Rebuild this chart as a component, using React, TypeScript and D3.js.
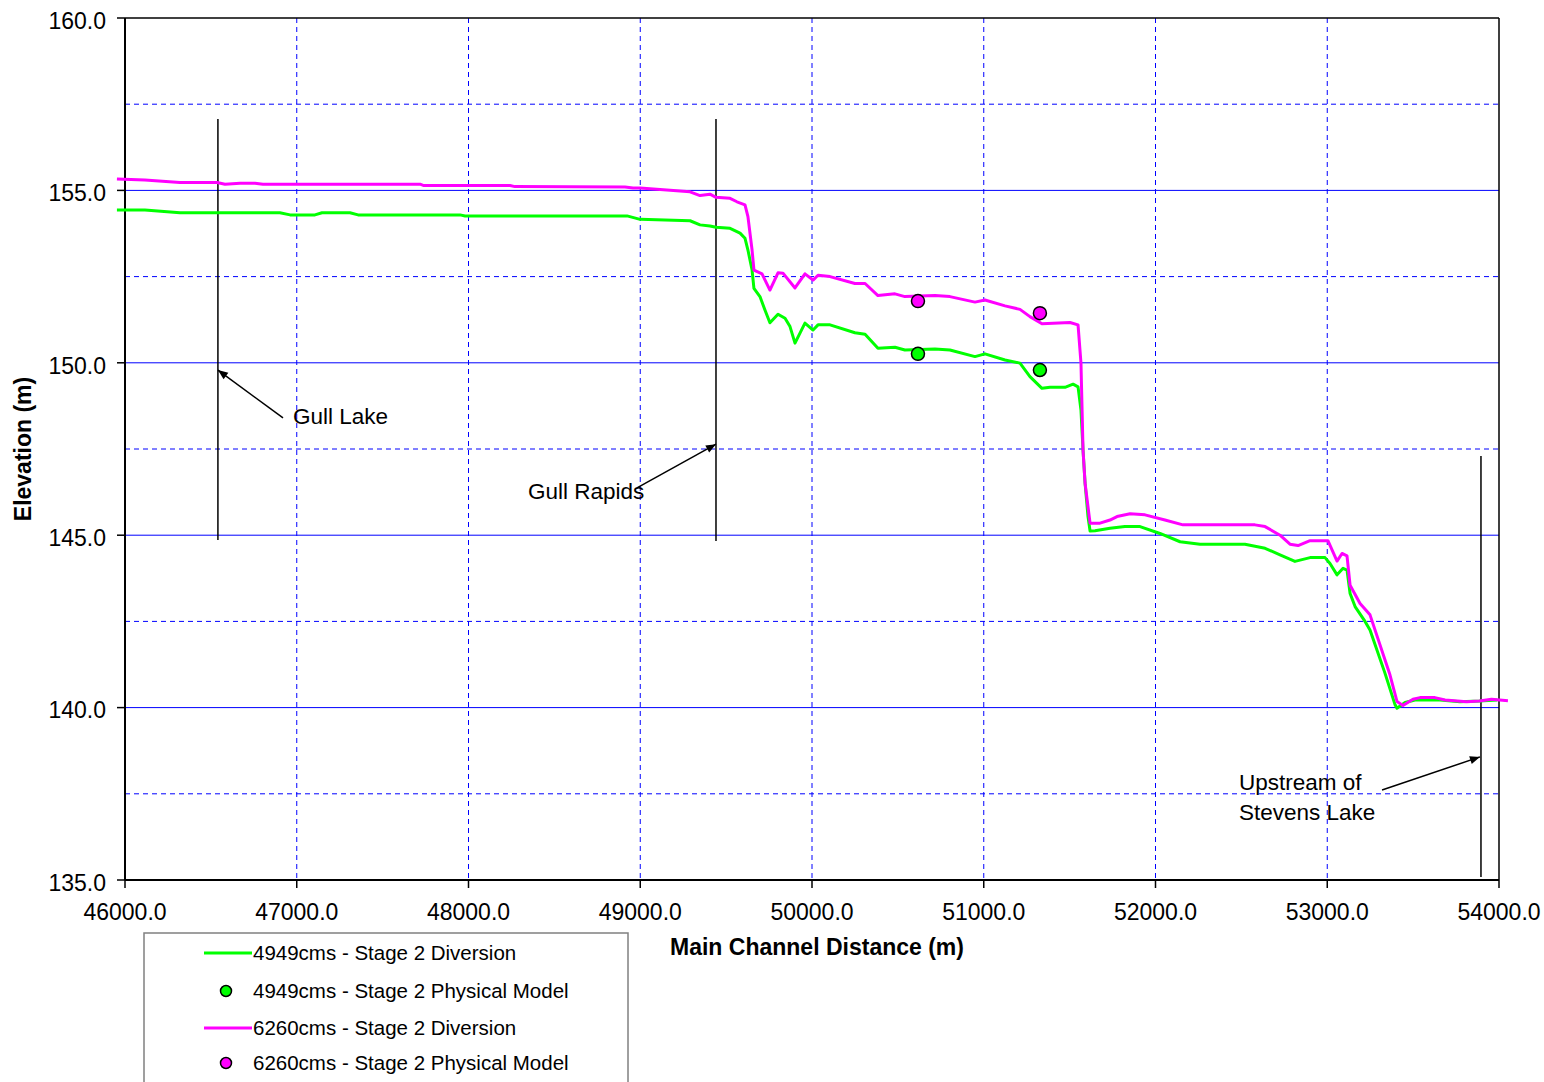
import React from "react";
import * as d3 from "d3";

const xTicks = [46000, 47000, 48000, 49000, 50000, 51000, 52000, 53000, 54000];
const yMajor = [135, 140, 145, 150, 155, 160];
const yMinor = [137.5, 142.5, 147.5, 152.5, 157.5];

const magentaDist = [45953, 46116, 46320, 46536, 46582, 46670, 46757, 46803, 47718, 47740, 48242, 48270, 48911, 48958, 48999, 49290, 49348, 49406, 49441, 49523, 49563, 49610, 49627, 49651, 49662, 49709, 49755, 49802, 49831, 49901, 49959, 50006, 50035, 50105, 50250, 50309, 50384, 50483, 50541, 50716, 50803, 50949, 51007, 51124, 51211, 51269, 51339, 51502, 51549, 51566, 51578, 51590, 51619, 51677, 51735, 51776, 51852, 51939, 52055, 52160, 52579, 52638, 52725, 52783, 52830, 52900, 53004, 53057, 53086, 53115, 53133, 53191, 53249, 53365, 53406, 53441, 53499, 53540, 53627, 53686, 53811, 53886, 53956, 54052];
const magentaElev = [155.33, 155.30, 155.23, 155.23, 155.18, 155.21, 155.21, 155.18, 155.18, 155.14, 155.14, 155.11, 155.10, 155.07, 155.07, 154.96, 154.85, 154.89, 154.80, 154.77, 154.67, 154.58, 154.24, 153.27, 152.69, 152.58, 152.11, 152.61, 152.60, 152.17, 152.58, 152.40, 152.54, 152.50, 152.30, 152.30, 151.95, 152.00, 151.92, 151.95, 151.92, 151.76, 151.82, 151.65, 151.55, 151.34, 151.13, 151.17, 151.10, 150.00, 147.47, 146.50, 145.35, 145.35, 145.44, 145.54, 145.62, 145.59, 145.44, 145.30, 145.30, 145.25, 145.00, 144.74, 144.70, 144.84, 144.84, 144.25, 144.47, 144.40, 143.55, 143.02, 142.69, 140.95, 140.18, 140.06, 140.24, 140.29, 140.29, 140.22, 140.17, 140.19, 140.24, 140.20];

const greenDist = [45953, 46116, 46320, 46902, 46961, 47106, 47147, 47310, 47357, 47951, 47980, 48923, 48999, 49290, 49348, 49406, 49441, 49523, 49581, 49610, 49627, 49651, 49662, 49697, 49726, 49755, 49802, 49843, 49872, 49901, 49959, 50006, 50035, 50105, 50250, 50309, 50384, 50483, 50541, 50716, 50803, 50949, 51007, 51124, 51211, 51269, 51339, 51386, 51473, 51520, 51549, 51566, 51578, 51590, 51607, 51619, 51648, 51735, 51822, 51910, 52026, 52143, 52259, 52521, 52638, 52725, 52812, 52900, 52987, 53016, 53057, 53092, 53115, 53133, 53162, 53220, 53249, 53336, 53395, 53406, 53453, 53511, 53657, 53773, 53886, 53990];
const greenElev = [154.43, 154.43, 154.35, 154.35, 154.29, 154.29, 154.35, 154.35, 154.29, 154.29, 154.26, 154.26, 154.16, 154.12, 154.00, 153.97, 153.93, 153.90, 153.76, 153.61, 153.27, 152.69, 152.16, 151.92, 151.53, 151.16, 151.41, 151.29, 151.05, 150.57, 151.15, 150.95, 151.10, 151.10, 150.87, 150.83, 150.42, 150.45, 150.37, 150.40, 150.37, 150.18, 150.26, 150.08, 149.99, 149.60, 149.26, 149.29, 149.29, 149.38, 149.30, 148.63, 147.47, 146.51, 145.54, 145.12, 145.13, 145.20, 145.25, 145.25, 145.05, 144.81, 144.74, 144.74, 144.62, 144.43, 144.24, 144.35, 144.35, 144.18, 143.85, 144.04, 143.99, 143.31, 142.93, 142.50, 142.25, 141.00, 140.08, 139.98, 140.15, 140.22, 140.22, 140.17, 140.19, 140.22];

const greenModelDist = [50617, 51327];
const greenModelElev = [150.26, 149.79];
const magentaModelDist = [50617, 51327];
const magentaModelElev = [151.79, 151.44];

const legendLabels = [
  "4949cms - Stage 2 Diversion",
  "4949cms - Stage 2 Physical Model",
  "6260cms - Stage 2 Diversion",
  "6260cms - Stage 2 Physical Model",
];

const GREEN = "#00FF00";
const MAGENTA = "#FF00FF";
const FONT = "'Liberation Sans', Arial, sans-serif";

export default function App() {
  const left = 125, right = 1499, top = 18, bottom = 880;
  const x = d3.scaleLinear().domain([46000, 54000]).range([left, right]);
  const y = d3.scaleLinear().domain([135, 160]).range([bottom, top]);

  const line = d3
    .line<[number, number]>()
    .x((d) => x(d[0]))
    .y((d) => y(d[1]));

  const gData = greenDist.map((d, i) => [d, greenElev[i]] as [number, number]);
  const mData = magentaDist.map((d, i) => [d, magentaElev[i]] as [number, number]);

  const annotations = [
    { lx: 46541, y1: 157.07, y2: 144.86, ax1: 46920, ay1: 148.4, ax2: 46541, ay2: 149.79 },
    { lx: 49441, y1: 157.07, y2: 144.83, ax1: 48981, ay1: 146.37, ax2: 49441, ay2: 147.64 },
    { lx: 53895, y1: 147.3, y2: 135.09, ax1: 53319, ay1: 137.61, ax2: 53889, ay2: 138.57 },
  ];

  const arrowHead = (x1: number, y1: number, x2: number, y2: number) => {
    const ang = Math.atan2(y2 - y1, x2 - x1);
    const L = 10, W = 4;
    const bx = x2 - L * Math.cos(ang), by = y2 - L * Math.sin(ang);
    const px = -Math.sin(ang) * W, py = Math.cos(ang) * W;
    return `M${x2},${y2}L${bx + px},${by + py}L${bx - px},${by - py}Z`;
  };

  return (
    <svg
      width={1544}
      height={1082}
      style={{ position: "absolute", left: 0, top: 0, background: "#fff" }}
      fontFamily={FONT}
    >
      <rect x={0} y={0} width={1544} height={1082} fill="#fff" />
      {yMinor.map((v) => (
        <line key={"ym" + v} x1={left} x2={right} y1={y(v)} y2={y(v)} stroke="#0000FF" strokeWidth={1} strokeDasharray="5,4" />
      ))}
      {xTicks.slice(1, -1).map((v) => (
        <line key={"xg" + v} x1={x(v)} x2={x(v)} y1={top} y2={bottom} stroke="#0000FF" strokeWidth={1} strokeDasharray="5,4" />
      ))}
      {yMajor.slice(1, -1).map((v) => (
        <line key={"yg" + v} x1={left} x2={right} y1={y(v)} y2={y(v)} stroke="#0000FF" strokeWidth={1} />
      ))}
      <line x1={left} x2={right} y1={top} y2={top} stroke="#000" strokeWidth={1.5} />
      <line x1={right} x2={right} y1={top} y2={bottom} stroke="#000" strokeWidth={1.5} />
      <line x1={left} x2={left} y1={top} y2={bottom} stroke="#000" strokeWidth={2} />
      <line x1={left} x2={right} y1={bottom} y2={bottom} stroke="#000" strokeWidth={2} />
      {yMajor.map((v) => (
        <g key={"yt" + v}>
          <line x1={left - 8} x2={left} y1={y(v)} y2={y(v)} stroke="#000" strokeWidth={1.5} />
          <text x={106} y={y(v) + 2.5} dy="0.36em" textAnchor="end" fontSize={23} fill="#000">
            {v.toFixed(1)}
          </text>
        </g>
      ))}
      {xTicks.map((v) => (
        <g key={"xt" + v}>
          <line x1={x(v)} x2={x(v)} y1={bottom} y2={bottom + 8} stroke="#000" strokeWidth={1.5} />
          <text x={x(v)} y={920} textAnchor="middle" fontSize={23} fill="#000">
            {v.toFixed(1)}
          </text>
        </g>
      ))}
      <text x={817} y={955} textAnchor="middle" fontSize={23} fontWeight="bold" fill="#000">
        Main Channel Distance (m)
      </text>
      <text transform="translate(31,449) rotate(-90)" textAnchor="middle" fontSize={23} fontWeight="bold" fill="#000">
        Elevation (m)
      </text>

      {annotations.map((a, i) => (
        <g key={"an" + i}>
          <line x1={x(a.lx)} x2={x(a.lx)} y1={y(a.y1)} y2={y(a.y2)} stroke="#000" strokeWidth={1.5} />
          <line x1={x(a.ax1)} y1={y(a.ay1)} x2={x(a.ax2)} y2={y(a.ay2)} stroke="#000" strokeWidth={1.5} />
          <path d={arrowHead(x(a.ax1), y(a.ay1), x(a.ax2), y(a.ay2))} fill="#000" />
        </g>
      ))}
      <text x={293} y={424} fontSize={22.5} fill="#000">Gull Lake</text>
      <text x={528} y={499} fontSize={22.5} fill="#000">Gull Rapids</text>
      <text x={1239} y={790} fontSize={22.5} fill="#000">Upstream of</text>
      <text x={1239} y={820} fontSize={22.5} fill="#000">Stevens Lake</text>

      <path d={line(gData) || ""} fill="none" stroke={GREEN} strokeWidth={3} strokeLinejoin="round" />
      <path d={line(mData) || ""} fill="none" stroke={MAGENTA} strokeWidth={3} strokeLinejoin="round" />
      {greenModelDist.map((d, i) => (
        <circle key={"gm" + i} cx={x(d)} cy={y(greenModelElev[i])} r={6.5} fill={GREEN} stroke="#000" strokeWidth={1.5} />
      ))}
      {magentaModelDist.map((d, i) => (
        <circle key={"mm" + i} cx={x(d)} cy={y(magentaModelElev[i])} r={6.5} fill={MAGENTA} stroke="#000" strokeWidth={1.5} />
      ))}

      <rect x={144} y={933} width={484} height={170} fill="#fff" stroke="#808080" strokeWidth={1.5} />
      {legendLabels.map((lab, i) => {
        const cy = [953, 991, 1028, 1063][i];
        const col = i < 2 ? GREEN : MAGENTA;
        const isLine = i % 2 === 0;
        return (
          <g key={"lg" + i}>
            {isLine ? (
              <line x1={204} x2={252} y1={cy} y2={cy} stroke={col} strokeWidth={3} />
            ) : (
              <circle cx={226} cy={cy} r={5.5} fill={col} stroke="#000" strokeWidth={1.5} />
            )}
            <text x={253} y={cy} dy="0.36em" fontSize={20.5} fill="#000">
              {lab}
            </text>
          </g>
        );
      })}
    </svg>
  );
}
